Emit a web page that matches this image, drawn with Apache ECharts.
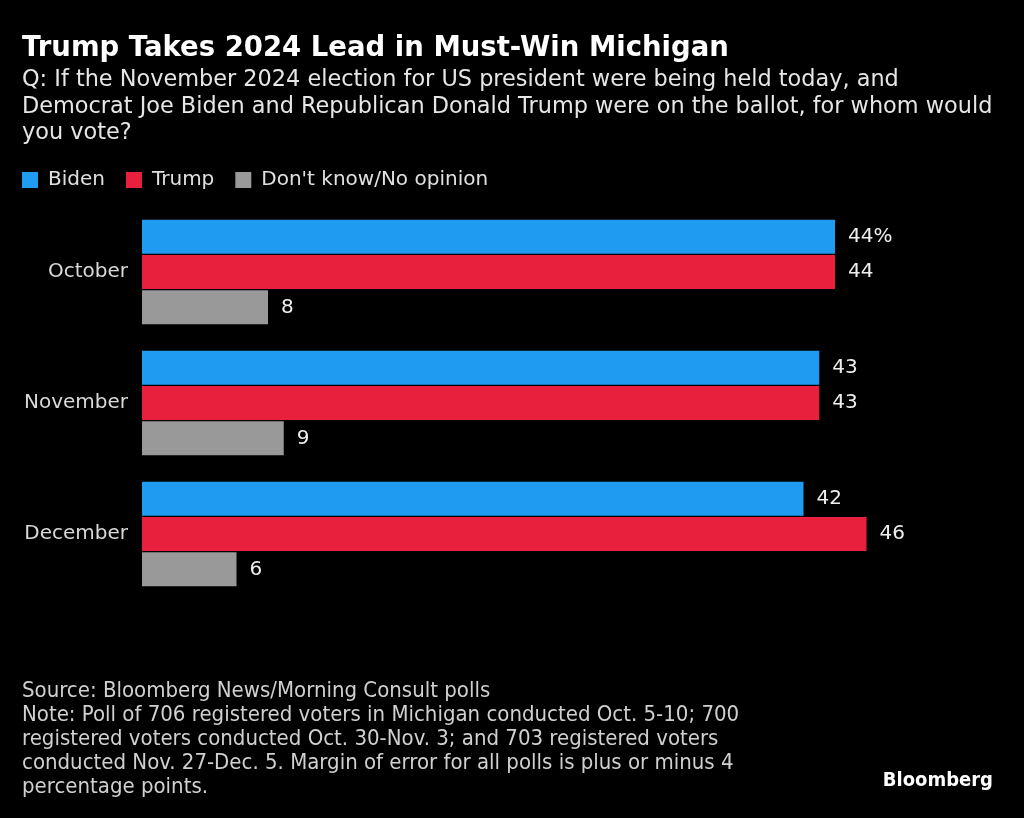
<!DOCTYPE html>
<html><head><meta charset="utf-8">
<script src="https://cdn.jsdelivr.net/npm/echarts@6/dist/echarts.min.js"></script>
<style>html,body{margin:0;padding:0;background:#000}#c{width:1024px;height:818px}</style>
</head><body><div id="c"></div>
<script>
const categories = ['October', 'November', 'December'];
const biden = [44, 43, 42];
const trump = [44, 43, 46];
const dontKnow = [8, 9, 6];
const seriesNames = ['Biden', 'Trump', "Don't know/No opinion"];
const colors = ['#1f9cf2', '#e8203e', '#999999'];

const chart = echarts.init(document.getElementById('c'));
const sans = 'DejaVu Sans';
const cond = 'DejaVu Sans Condensed';
function lbl(seriesIdx) {
  return {
    show: true, position: 'right', distance: 13,
    color: '#eeeeee', fontSize: 20, fontFamily: sans,
    formatter: p => (seriesIdx === 0 && p.dataIndex === 0) ? p.value + '%' : String(p.value)
  };
}
chart.setOption({
  backgroundColor: '#000',
  animation: false,
  title: [
    { text: 'Trump Takes 2024 Lead in Must-Win Michigan', left: 17, top: 30, padding: 5,
      textStyle: { color: '#ffffff', fontSize: 27.5, fontWeight: 'bold', fontFamily: sans } },
    { text: 'Q: If the November 2024 election for US president were being held today, and\nDemocrat Joe Biden and Republican Donald Trump were on the ballot, for whom would\nyou vote?',
      left: 17, top: 62,
      textStyle: { color: '#e6e6e6', fontSize: 22.4, fontWeight: 'normal', fontFamily: sans, lineHeight: 26.5 } },
    { text: 'Source: Bloomberg News/Morning Consult polls\nNote: Poll of 706 registered voters in Michigan conducted Oct. 5-10; 700\nregistered voters conducted Oct. 30-Nov. 3; and 703 registered voters\nconducted Nov. 27-Dec. 5. Margin of error for all polls is plus or minus 4\npercentage points.',
      left: 17, top: 674,
      textStyle: { color: '#d0d0d0', fontSize: 22, fontWeight: 'normal', fontFamily: cond, lineHeight: 24 } },
    { text: 'Bloomberg', right: 26, top: 766,
      textStyle: { color: '#ffffff', fontSize: 20, fontWeight: 'bold', fontFamily: cond } }
  ],
  legend: {
    left: 22, top: 170, padding: 0, icon: 'rect', itemWidth: 16, itemHeight: 16, itemGap: 21,
    data: seriesNames,
    textStyle: { color: '#e0e0e0', fontSize: 20, fontFamily: sans, padding: [0, 0, 0, 5] }
  },
  grid: { left: 142, right: 94.5, top: 206.5, bottom: 218.5, containLabel: false },
  xAxis: { type: 'value', min: 0, max: 50, show: false },
  yAxis: {
    type: 'category', data: categories, inverse: true,
    axisLine: { show: false }, axisTick: { show: false },
    axisLabel: { color: '#d8d8d8', fontSize: 20, fontFamily: sans, margin: 14 }
  },
  series: [
    { name: seriesNames[0], type: 'bar', data: biden, barWidth: 34, barGap: '4%', barCategoryGap: 26,
      itemStyle: { color: colors[0] }, label: lbl(0) },
    { name: seriesNames[1], type: 'bar', data: trump, barWidth: 34, barGap: '4%',
      itemStyle: { color: colors[1] }, label: lbl(1) },
    { name: seriesNames[2], type: 'bar', data: dontKnow, barWidth: 34, barGap: '4%',
      itemStyle: { color: colors[2] }, label: lbl(2) }
  ]
});
</script></body></html>
